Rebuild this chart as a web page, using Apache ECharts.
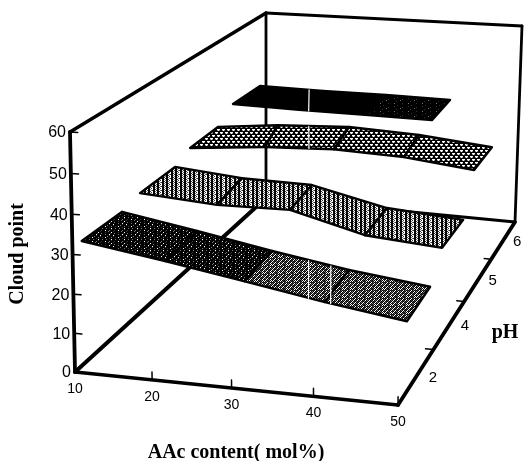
<!DOCTYPE html>
<html><head><meta charset="utf-8"><style>html,body{margin:0;background:#fff}#c{width:524px;height:461px}</style>
<script src="https://cdn.jsdelivr.net/npm/echarts@6/dist/echarts.min.js"></script></head>
<body><div id="c"></div>
<script>
// ---- data ----
var aacTicks = [10, 20, 30, 40, 50];
var cloudTicks = [0, 10, 20, 30, 40, 50, 60];
var phTickLabels = ['2', '4', '5', '6'];
var phTickSlots = [1, 2, 3, 4];            // evenly spaced slots on the depth axis
var xTitle = 'AAc content( mol%)', yTitle = 'Cloud point', zTitle = 'pH';

// each ribbon: depth slot and cloud point along its near and far edges, one per AAc value
var ph2NearSlot  = [0.15, 0.26, 0.28, 0.26, 0.22];
var ph2NearCloud = [31.6, 26.8, 23.1, 19.9, 17.5];
var ph2FarSlot   = [0.84, 0.87, 0.86, 0.84, 0.87];
var ph2FarCloud  = [31.3, 27.4, 23.9, 20.9, 18.0];

var ph4NearSlot  = [1.17, 1.28, 1.27, 1.25, 1.22];
var ph4NearCloud = [32.7, 29.8, 30.1, 25.2, 23.9];
var ph4FarSlot   = [1.86, 1.82, 1.80, 1.86, 1.90];
var ph4FarCloud  = [32.7, 31.4, 31.2, 25.8, 23.8];

var ph5NearSlot  = [2.18, 2.36, 2.37, 2.35, 2.25];
var ph5NearCloud = [34.9, 34.8, 35.5, 34.9, 33.8];
var ph5FarSlot   = [2.80, 2.68, 2.79, 2.82, 2.90];
var ph5FarCloud  = [35.1, 38.1, 37.9, 36.7, 33.9];

var ph6NearSlot  = [3.16, 3.23, 3.26, 3.25];
var ph6NearCloud = [38.7, 37.6, 37.2, 37.1];
var ph6FarSlot   = [3.84, 3.90, 3.91, 3.89];
var ph6FarCloud  = [38.3, 37.5, 37.5, 37.5];

// pale scan seams across the ribbons: [aac, slot, cloud] at each end
var seamNearEnds = [[38, 0.26, 20.5], [40.7, 0.26, 19.7], [26.4, 2.37, 35.2], [21.5, 3.23, 37.5]];
var seamFarEnds  = [[34.8, 0.85, 22.3], [37.7, 0.84, 21.6], [24.4, 2.72, 38], [17.8, 3.89, 37.7]];

// ---- fill textures ----
function bitmap(rows) {
  var c = document.createElement('canvas');
  c.width = rows[0].length; c.height = rows.length;
  var g = c.getContext('2d');
  rows.forEach(function (r, y) {
    for (var x = 0; x < r.length; x++) {
      g.fillStyle = r[x] === '#' ? '#000' : r[x] === '+' ? '#777' : r[x] === ':' ? '#333' : '#fff';
      g.fillRect(x, y, 1, 1);
    }
  });
  return { image: c, repeat: 'repeat' };
}
var texDark = bitmap([
  '####+####:###','#:#####.#####','######:###+##','#+###.#######','#####:###.###',
  '###+#####:###','#.#####+###:#','#####:#######','##+####.###+#','#######:#####','#.###+####:##']);
var texGrey = bitmap(['#.#:#+#.','.#+#:#.#','#:#.#+#:','+#.#:#.#','#.#:#.#+','.#:#+#:#','#+#.#:#.',':#.#+#.#']);
var texHatch = bitmap(['##.+##.:.','##:.##+..','##.:##.+:','##+.##:..']);
var texDots = bitmap(['...##','+.+##','#####','##...','##+.+','#####']);
var texBlack = bitmap(['#']);
var texSpeck = bitmap([
  '##############','#####:########','##:###########','##########:###','########+#####',
  '####:#########','##############','##+#######:###']);

// ---- perspective of the box (image of the floor and ceiling of the cube) ----
function quad(c) {
  var x0=c[0][0],y0=c[0][1],x1=c[1][0],y1=c[1][1],x2=c[2][0],y2=c[2][1],x3=c[3][0],y3=c[3][1];
  var dx1=x1-x2,dx2=x3-x2,sx=x0-x1+x2-x3,dy1=y1-y2,dy2=y3-y2,sy=y0-y1+y2-y3,d=dx1*dy2-dx2*dy1;
  var g=(sx*dy2-dx2*sy)/d,h=(dx1*sy-sx*dy1)/d;
  var a=x1-x0+g*x1,b=x3-x0+h*x3,e=y1-y0+g*y1,f=y3-y0+h*y3;
  return function (u,v){var w=g*u+h*v+1;return [(a*u+b*v+x0)/w,(e*u+f*v+y0)/w];};
}
var floorMap = quad([[75,372],[398,405],[515,222],[266,198]]);
var ceilMap  = quad([[70,132],[400,151],[522,26],[266,13]]);
function warp(t,q){return q*t/(1+(q-1)*t);}
function project(aac, slot, cloud) {
  var u = warp((aac-10)/40,.95), v = slot/4, w = warp(cloud/60,.96);
  var a = floorMap(u,v), b = ceilMap(u,v);
  return [a[0]+(b[0]-a[0])*w, a[1]+(b[1]-a[1])*w];
}

// ---- marks built from the data ----
var boxLines = [
  [[10,4,0],[10,4,60],2.8],[[10,4,60],[50,4,60],2.8],[[50,4,60],[50,4,0],2.8],[[10,4,0],[50,4,0],2.8],
  [[10,0,0],[10,4,0],4],[[10,0,0],[50,0,0],3.6],[[50,0,0],[50,4,0],3.8],
  [[10,0,0],[10,0,60],3.8],[[10,0,60],[10,4,60],3.4]
];
var tickLines = [];
cloudTicks.forEach(function(z){tickLines.push([[10,0,z],[11,0,z],1.5]);});
aacTicks.forEach(function(x){if(x>10)tickLines.push([[x,0,0],[x,0,2],1.5]);});
phTickSlots.forEach(function(s){tickLines.push([[50,s,0],[49,s,0],1.5]);});
var seamLines = seamNearEnds.map(function(n,i){return [n,seamFarEnds[i],1.2,'#fff'];});

function ribbon(nearS,nearC,farS,farC,fills){
  return fills.map(function(f,i){
    return {fill:f, pts:[
      [aacTicks[i],nearS[i],nearC[i]],[aacTicks[i+1],nearS[i+1],nearC[i+1]],
      [aacTicks[i+1],farS[i+1],farC[i+1]],[aacTicks[i],farS[i],farC[i]]]};
  });
}
var patches = [].concat(
  ribbon(ph6NearSlot,ph6NearCloud,ph6FarSlot,ph6FarCloud,[texBlack,texBlack,texSpeck]),
  ribbon(ph5NearSlot,ph5NearCloud,ph5FarSlot,ph5FarCloud,[texDots,texDots,texDots,texDots]),
  ribbon(ph4NearSlot,ph4NearCloud,ph4FarSlot,ph4FarCloud,[texHatch,texHatch,texHatch,texHatch]),
  ribbon(ph2NearSlot,ph2NearCloud,ph2FarSlot,ph2FarCloud,[texDark,texDark,texGrey,texGrey])
);

var SERIF = '700 20px "Liberation Serif"';
var labels = [];
cloudTicks.forEach(function(z){labels.push({p:[10,0,z],dx:-4,dy:1,t:String(z),a:'right',f:'16px "Liberation Sans"'});});
aacTicks.forEach(function(x){labels.push({p:[x,0,0],dx:0,dy:17,t:String(x),a:'center',f:'14px "Liberation Sans"'});});
phTickLabels.forEach(function(t,i){labels.push({p:[52,phTickSlots[i]-.5,0],dx:0,dy:0,t:t,a:'center',f:'15px "Liberation Sans"'});});

function lineItem(list){return function(params,api){
  var l=list[params.dataIndex], a=api.coord(project.apply(null,l[0])), b=api.coord(project.apply(null,l[1]));
  return {type:'line',shape:{x1:a[0],y1:a[1],x2:b[0],y2:b[1]},style:{stroke:l[3]||'#000',lineWidth:l[2],lineCap:'round'}};
};}
function idx(list){return list.map(function(_,i){return [i,0];});}
var base={type:'custom',silent:true,animation:false,clip:false,coordinateSystem:'cartesian2d'};
function S(o){for(var k in base)o[k]=base[k];return o;}

var chart = echarts.init(document.getElementById('c'),null,{renderer:'canvas',width:524,height:461});
chart.setOption({
  backgroundColor:'#fff', animation:false,
  grid:{left:0,right:0,top:0,bottom:0},
  xAxis:{type:'value',min:0,max:524,show:false},
  yAxis:{type:'value',min:0,max:461,inverse:true,show:false},
  series:[
    S({name:'box',data:idx(boxLines),renderItem:lineItem(boxLines),z:1}),
    S({name:'ticks',data:idx(tickLines),renderItem:lineItem(tickLines),z:1}),
    S({name:'ribbons',data:idx(patches),z:2,renderItem:function(params,api){
      var p=patches[params.dataIndex];
      return {type:'polygon',shape:{points:p.pts.map(function(q){return api.coord(project.apply(null,q));})},
        style:{fill:p.fill,stroke:'#000',lineWidth:2.4,lineJoin:'round'}};
    }}),
    S({name:'seams',data:idx(seamLines),renderItem:lineItem(seamLines),z:2.5}),
    S({name:'labels',data:idx(labels),z:3,renderItem:function(params,api){
      var l=labels[params.dataIndex], c=api.coord(project.apply(null,l.p));
      return {type:'text',x:c[0]+l.dx,y:c[1]+l.dy,style:{text:l.t,font:l.f,fill:'#000',textAlign:l.a,textVerticalAlign:'middle'}};
    }}),
    S({name:'titles',data:[[0,0],[1,0],[2,0]],z:3,renderItem:function(params,api){
      var i=params.dataIndex;
      var spec=[[236,453,xTitle,0],[18,254,yTitle,Math.PI/2],[505,333,zTitle,0]][i];
      var c=api.coord([spec[0],spec[1]]);
      return {type:'text',x:c[0],y:c[1],rotation:spec[3],style:{text:spec[2],font:SERIF,fill:'#000',textAlign:'center',textVerticalAlign:'middle'}};
    }})
  ]
});
</script></body></html>
